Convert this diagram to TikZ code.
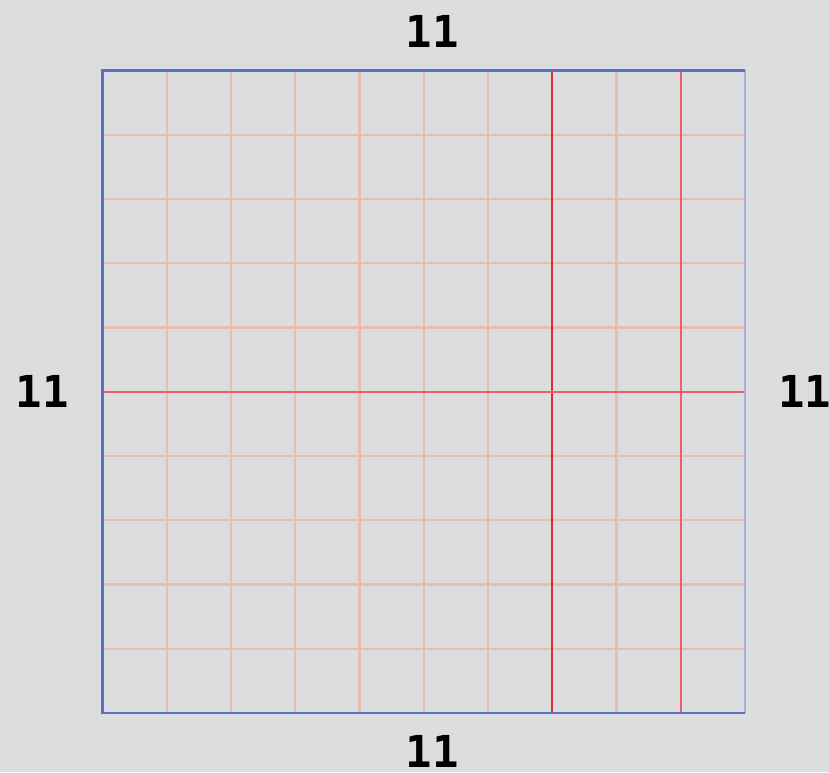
\documentclass[tikz,border=0pt]{standalone}
\usepackage{fontspec}
\newfontfamily\labelfont{DejaVu Sans Mono}
\definecolor{bgcol}{HTML}{DCDDDF}
\definecolor{framecol}{HTML}{5A72C0}
\definecolor{edgecol}{HTML}{A8AAE0}
\definecolor{gridcol}{HTML}{EEBCAC}
\definecolor{markcol}{HTML}{EC2A36}
\definecolor{softmark}{HTML}{EE5E68}
\tikzset{
  sidelabel/.style={font=\labelfont\bfseries\fontsize{33}{33}\selectfont, text=black},
  gridline/.style={color=gridcol, line width=1.8pt},
  markline/.style={color=markcol, line width=1.6pt},
}
\begin{document}
\begin{tikzpicture}[x=48.19pt,y=48.19pt]
\fill[bgcol] (-1.595,-0.918) rectangle (11.307,11.097);
\useasboundingbox (-1.595,-0.918) rectangle (11.307,11.097);
% grid
\foreach \i in {1,...,9} {
  \draw[gridline] (\i,0)--(\i,10);
  \draw[gridline] (0,\i)--(10,\i);
}
\draw[markline] (7,0)--(7,10);
\draw[markline,color=softmark] (9,0)--(9,10);
\draw[markline,color=softmark] (0,5)--(10,5);
% frame
\draw[color=edgecol, line width=2pt] (10,0)--(10,10);
\draw[color=framecol, line width=2pt] (10,0)--(0,0)--(0,10)--(10,10);
\node[sidelabel] (top) at (5.13,10.6) {11};
\node[sidelabel] (left) at (-0.94,5.0) {11};
\node[sidelabel] (right) at (10.93,5.0) {11};
\node[sidelabel] (bottom) at (5.13,-0.6) {11};
\end{tikzpicture}
\end{document}
